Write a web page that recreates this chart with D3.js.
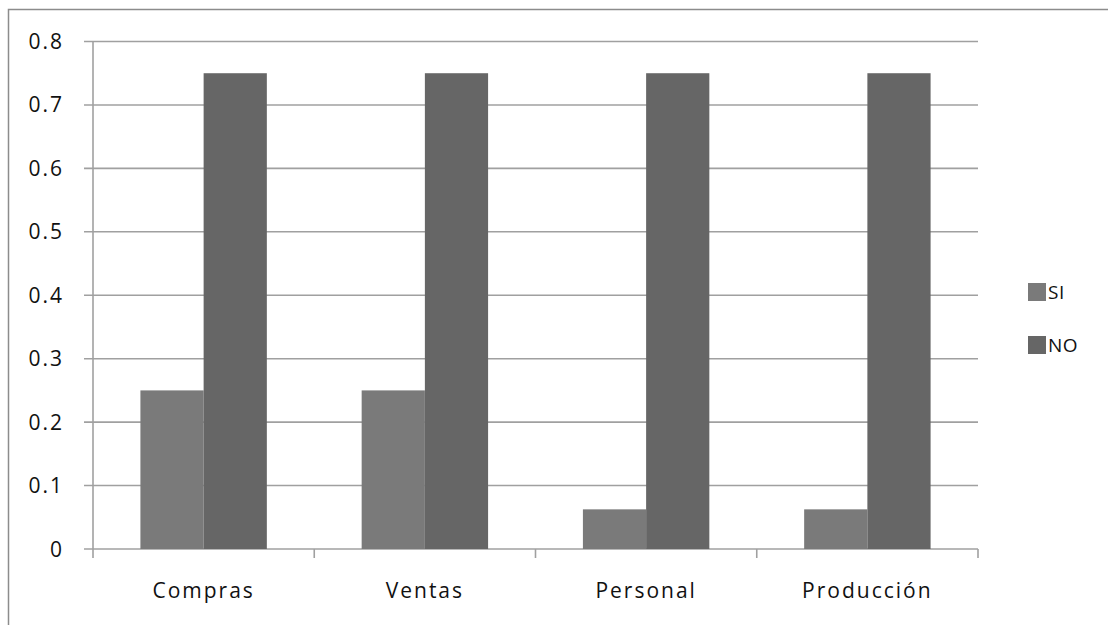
<!DOCTYPE html>
<html>
<head>
<meta charset="utf-8">
<script src="https://cdn.jsdelivr.net/npm/d3@7"></script>
<style>
  body { margin: 0; background: #fff; }
  svg text { font-family: 'Open Sans', sans-serif; fill: #111; }
</style>
</head>
<body>
<div id="chart"></div>
<script>
// data
const categories = ['Compras', 'Ventas', 'Personal', 'Producción'];
const seriesNames = ['SI', 'NO'];
const siValues = [0.25, 0.25, 0.0625, 0.0625];
const noValues = [0.75, 0.75, 0.75, 0.75];
const yTicks = [0, 0.1, 0.2, 0.3, 0.4, 0.5, 0.6, 0.7, 0.8];
const colors = ['#7a7a7a', '#666666'];

const W = 1108, H = 625;
const margins = {top: 41.5, right: 130, bottom: 76, left: 93};
const width = 978 - margins.left;
const height = 549 - margins.top;

const svg = d3.select('#chart').append('svg')
  .attr('width', W)
  .attr('height', H);

// outer chart border
svg.append('rect')
  .attr('x', 8.5).attr('y', 9.5)
  .attr('width', W + 10).attr('height', H + 10)
  .attr('fill', 'none')
  .attr('stroke', '#8c8c8c')
  .attr('stroke-width', 1.5);

const g = svg.append('g')
  .attr('transform', `translate(${margins.left}, ${margins.top})`);

const x = d3.scaleBand().domain(categories).range([0, width]);
const y = d3.scaleLinear().domain([0, 0.8]).range([height, 0]);

// gridlines
g.append('g')
  .selectAll('line')
  .data(yTicks)
  .enter()
  .append('line')
  .attr('x1', -9).attr('x2', width)
  .attr('y1', d => y(d)).attr('y2', d => y(d))
  .attr('stroke', '#a0a0a0')
  .attr('stroke-width', 1.6);

// y axis line
g.append('line')
  .attr('x1', 0).attr('x2', 0)
  .attr('y1', 0).attr('y2', height)
  .attr('stroke', '#a0a0a0')
  .attr('stroke-width', 1.6);

// y labels
g.append('g')
  .selectAll('text')
  .data(yTicks)
  .enter()
  .append('text')
  .attr('x', -29)
  .attr('y', d => y(d))
  .attr('dy', '0.36em')
  .attr('text-anchor', 'end')
  .attr('font-size', '21px')
  .style('letter-spacing', '2px')
  .text(d => d === 0 ? '0' : d3.format('.1f')(d));

// x category tick marks
const bounds = categories.map(c => x(c)).concat([width]);
g.append('g')
  .selectAll('line')
  .data(bounds)
  .enter()
  .append('line')
  .attr('x1', d => d).attr('x2', d => d)
  .attr('y1', height).attr('y2', height + 9)
  .attr('stroke', '#a0a0a0')
  .attr('stroke-width', 1.6);

// x labels
g.append('g')
  .selectAll('text')
  .data(categories)
  .enter()
  .append('text')
  .attr('x', d => x(d) + x.bandwidth() / 2)
  .attr('y', height + 49)
  .attr('text-anchor', 'middle')
  .attr('font-size', '21px')
  .style('letter-spacing', '2px')
  .text(d => d);

// bars, excel style gap width 150%
const barW = x.bandwidth() / 3.5;
const gap = (x.bandwidth() - 2 * barW) / 2;
const series = [siValues, noValues];
series.forEach((vals, si) => {
  g.append('g')
    .selectAll('rect')
    .data(vals)
    .enter()
    .append('rect')
    .attr('x', (d, i) => x(categories[i]) + gap + si * barW)
    .attr('y', d => y(d))
    .attr('width', barW)
    .attr('height', d => height - y(d))
    .attr('fill', colors[si]);
});

// legend
const legend = svg.append('g')
  .attr('transform', 'translate(1028, 292)');
seriesNames.forEach((name, i) => {
  legend.append('rect')
    .attr('x', 0).attr('y', i * 53 - 9)
    .attr('width', 18).attr('height', 18)
    .attr('fill', colors[i]);
  legend.append('text')
    .attr('x', 20).attr('y', i * 53)
    .attr('dy', '0.36em')
    .attr('font-size', '19px')
    .style('letter-spacing', '0.5px')
    .text(name);
});
</script>
</body>
</html>
